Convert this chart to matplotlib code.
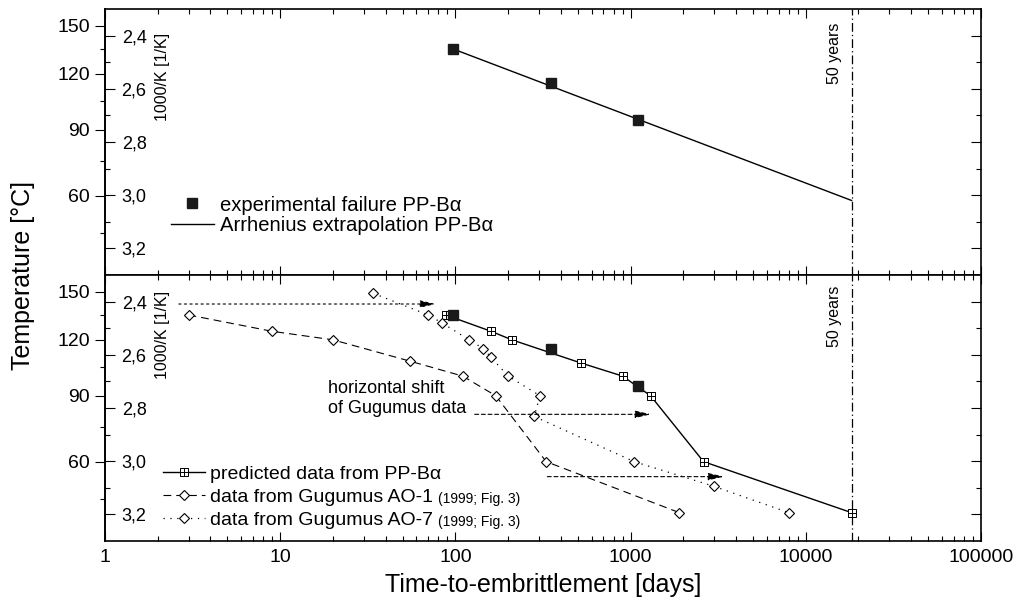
import numpy as np
import matplotlib
matplotlib.use('Agg')
import matplotlib.pyplot as plt
from matplotlib.ticker import FixedLocator, FuncFormatter, LogLocator, NullFormatter
from matplotlib.path import Path
from matplotlib.lines import Line2D

plt.rcParams['font.family'] = ['Liberation Sans', 'DejaVu Sans']

# ---------------- data ----------------
exp_days = [97, 350, 1105]
exp_temp = [135, 115, 95]                 # °C
arr_days = [97, 18262]
arr_temp = [135, 58]                      # °C
pred_days = [88, 160, 210, 520, 900, 1300, 2610, 18262]
pred_temp = [135, 125, 120, 107, 100, 90, 60, 40]
ao1_days = [3, 9, 20, 55, 110, 170, 330, 1900]
ao1_temp = [135, 125, 120, 108, 100, 90, 60, 40]
ao7_days = [34, 70, 84, 120, 144, 160, 200, 304, 282, 1050, 3000, 8000]
ao7_temp = [149, 135, 130, 120, 115, 110, 100, 90, 80, 60, 50, 40]
fifty_years = 18262

yticks_c = [60, 90, 120, 150]
yminor_c = [45, 75, 105, 135]
yticks_k = [2.4, 2.6, 2.8, 3.0, 3.2]
yminor_k = [2.5, 2.7, 2.9, 3.1]
ytick_k_labels = ['2,4', '2,6', '2,8', '3,0', '3,2']
xticks = [1, 10, 100, 1000, 10000, 100000]


def c2k(t):
    with np.errstate(divide='ignore', invalid='ignore'):
        return 1000.0 / (np.asarray(t, dtype=float) + 273.15)


def k2c(x):
    with np.errstate(divide='ignore', invalid='ignore'):
        return 1000.0 / np.asarray(x, dtype=float) - 273.15


# boxed-plus marker
bp_verts = [(-1, -1), (1, -1), (1, 1), (-1, 1), (-1, -1),
            (0, -1), (0, 1), (-1, 0), (1, 0)]
bp_codes = [Path.MOVETO, Path.LINETO, Path.LINETO, Path.LINETO, Path.CLOSEPOLY,
            Path.MOVETO, Path.LINETO, Path.MOVETO, Path.LINETO]
boxplus = Path(bp_verts, bp_codes)

fig = plt.figure(figsize=(10.18, 6.01), dpi=100)
L, W, H = 0.1031, 0.8605, 0.4426
ax_top = fig.add_axes([L, 0.5424, W, H])
ax_bot = fig.add_axes([L, 0.0998, W, H], sharex=ax_top)

for ax in (ax_top, ax_bot):
    ax.set_xscale('log')
    ax.set_xlim(1, 100000)
    ax.set_ylim(3.3, 2.3)
    for s in ax.spines.values():
        s.set_linewidth(1.2)
    ax.xaxis.set_major_locator(FixedLocator(xticks))
    ax.xaxis.set_minor_locator(LogLocator(base=10, subs=np.arange(2, 10)))
    ax.xaxis.set_minor_formatter(NullFormatter())
    ax.tick_params(axis='x', which='both', direction='in', top=True, bottom=True)
    ax.tick_params(axis='x', which='major', length=6.5, width=0.8, labelsize=14, pad=6)
    ax.tick_params(axis='x', which='minor', length=3.5, width=0.8)
    ax.yaxis.set_major_locator(FixedLocator(yticks_k))
    ax.yaxis.set_minor_locator(FixedLocator(yminor_k))
    ax.set_yticklabels(ytick_k_labels)
    ax.tick_params(axis='y', which='both', direction='in', left=True, right=True)
    ax.tick_params(axis='y', which='major', length=7, width=0.8, labelsize=13, pad=-30)
    ax.tick_params(axis='y', which='minor', length=3.5, width=0.8)
    sec = ax.secondary_yaxis('left', functions=(k2c, c2k))
    sec.set_yticks(yticks_c)
    sec.yaxis.set_minor_locator(FixedLocator(yminor_c))
    sec.tick_params(axis='y', which='major', direction='out', length=7, width=0.8,
                    labelsize=14, pad=4)
    sec.tick_params(axis='y', which='minor', direction='out', length=3.5, width=0.8)
    sec.spines['left'].set_linewidth(1.2)
    ax.axvline(fifty_years, color='k', lw=0.9, ls=(0, (7, 2.5, 1, 2.5)))

ax_top.tick_params(axis='x', labelbottom=False)
ax_bot.xaxis.set_major_formatter(FuncFormatter(lambda v, p: f'{v:.0f}'))

# ---------------- top panel ----------------
ax_top.plot(arr_days, c2k(arr_temp), color='k', lw=1.0, zorder=2)
ax_top.plot(exp_days, c2k(exp_temp), ls='none', marker='s', ms=7.2, color='#1a1a1a', zorder=3)
h_top = [Line2D([], [], ls='none', marker='s', ms=7.2, color='#1a1a1a'),
         Line2D([], [], color='k', lw=1.0)]
ax_top.legend(h_top, ['experimental failure PP-Bα', 'Arrhenius extrapolation PP-Bα'],
              loc='center left', bbox_to_anchor=(0.0753, 0.225), frameon=False,
              fontsize=14.6, handlelength=2.1, handletextpad=0.3, labelspacing=0.06,
              borderpad=0, borderaxespad=0)
ax_top.text(0.066, 0.744, '1000/K [1/K]', transform=ax_top.transAxes, rotation=90,
            ha='center', va='center', fontsize=11.5)
ax_top.annotate('50 years', xy=(fifty_years, 0.835), xycoords=ax_top.get_xaxis_transform(),
                xytext=(-12, 0), textcoords='offset points', rotation=90,
                ha='center', va='center', fontsize=11.5)

# ---------------- bottom panel ----------------
ln_pred, = ax_bot.plot(pred_days, c2k(pred_temp), color='k', lw=1.0, marker=boxplus,
                       ms=5.2, mfc='white', mec='k', mew=0.7, zorder=3)
ln_ao1, = ax_bot.plot(ao1_days, c2k(ao1_temp), color='k', lw=0.8, ls=(0, (7, 4.5)),
                      marker='D', ms=5.5, mfc='white', mec='k', mew=0.8, zorder=3)
ln_ao7, = ax_bot.plot(ao7_days, c2k(ao7_temp), color='k', lw=0.9, ls=(0, (1, 4.5)),
                      marker='D', ms=5.5, mfc='white', mec='k', mew=0.8, zorder=3)
ax_bot.plot(exp_days, c2k(exp_temp), ls='none', marker='s', ms=7.2, color='#1a1a1a', zorder=4)

arrow_kw = dict(color='k', lw=0.8, shrinkA=0, shrinkB=0, mutation_scale=10,
                arrowstyle='-|>,head_length=0.95,head_width=0.22')
ax_bot.annotate('', xy=(77.5, 2.409), xytext=(2.64, 2.409),
                arrowprops=dict(ls=(0, (2, 3)), **arrow_kw))
ax_bot.annotate('', xy=(1307, 2.8237), xytext=(129, 2.8237),
                arrowprops=dict(ls=(0, (3.5, 2.5)), **arrow_kw))
ax_bot.annotate('', xy=(3413, 3.058), xytext=(335, 3.058),
                arrowprops=dict(ls=(0, (3.5, 2.5)), **arrow_kw))

ax_bot.text(0.2546, 0.537, 'horizontal shift\nof Gugumus data', transform=ax_bot.transAxes,
            ha='left', va='center', fontsize=13, linespacing=1.25)
ax_bot.text(0.066, 0.774, '1000/K [1/K]', transform=ax_bot.transAxes, rotation=90,
            ha='center', va='center', fontsize=11.5)
ax_bot.annotate('50 years', xy=(fifty_years, 0.846), xycoords=ax_bot.get_xaxis_transform(),
                xytext=(-12, 0), textcoords='offset points', rotation=90,
                ha='center', va='center', fontsize=11.5)

leg = ax_bot.legend([ln_pred, ln_ao1, ln_ao7],
                    ['predicted data from PP-Bα', 'data from Gugumus AO-1',
                     'data from Gugumus AO-7'],
                    loc='center left', bbox_to_anchor=(0.066, 0.165), frameon=False,
                    fontsize=14, handlelength=2.15, handletextpad=0.3, labelspacing=0.27,
                    borderpad=0, borderaxespad=0)

ax_bot.set_xlabel('Time-to-embrittlement [days]', fontsize=18, labelpad=5)
fig.text(0.0226, 0.5424, 'Temperature [°C]', rotation=90, ha='center', va='center',
         fontsize=18)

fig.canvas.draw()
inv = fig.transFigure.inverted()
for t in leg.get_texts()[1:]:
    bb = t.get_window_extent()
    x0, y0 = inv.transform((bb.x1 + 5, bb.y0))
    fig.text(x0, y0, '(1999; Fig. 3)', ha='left', va='bottom', fontsize=10)

fig.savefig('out.png', dpi=100)
